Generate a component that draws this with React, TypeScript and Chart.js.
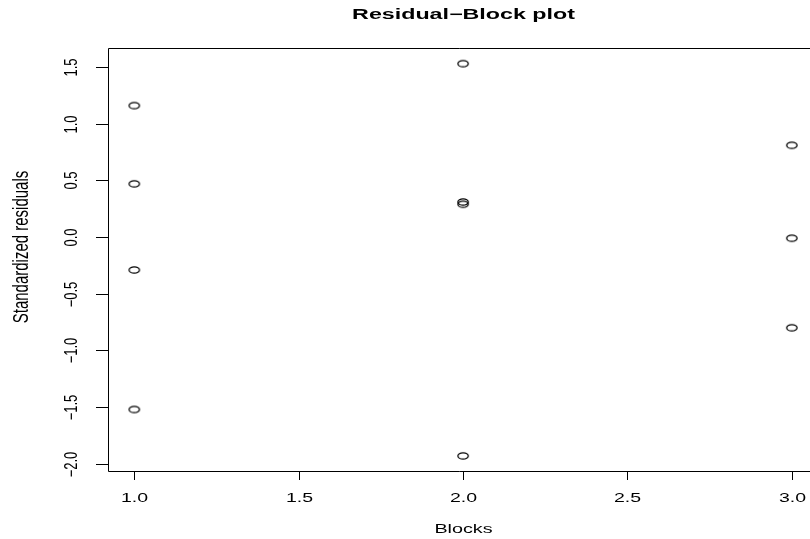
import React, { useEffect, useRef } from "react";
import { Chart, registerables } from "chart.js";

Chart.register(...registerables);

// Data
const blocks: number[] = [1, 1, 1, 1, 2, 2, 2, 2, 3, 3, 3];
const residuals: number[] = [1.16, 0.47, -0.29, -1.52, 1.53, 0.31, 0.29, -1.93, 0.81, -0.01, -0.8];
const xTicks: number[] = [1.0, 1.5, 2.0, 2.5, 3.0];
const yTicks: number[] = [-2.0, -1.5, -1.0, -0.5, 0.0, 0.5, 1.0, 1.5];
const titleText = "Residual\u2212Block plot";
const xTitle = "Blocks";
const yTitle = "Standardized residuals";

const fmt = (v: number) => (v < 0 ? "\u2212" : "") + Math.abs(v).toFixed(1);

function makeEllipse(): HTMLCanvasElement {
  const c = document.createElement("canvas");
  c.width = 14;
  c.height = 10;
  const g = c.getContext("2d")!;
  g.strokeStyle = "#000";
  g.lineWidth = 1.3;
  g.beginPath();
  g.ellipse(7, 5, 5.2, 3.2, 0, 0, Math.PI * 2);
  g.stroke();
  return c;
}

function drawText(
  ctx: CanvasRenderingContext2D,
  text: string,
  x: number,
  y: number,
  font: string,
  sx: number,
  rotate: boolean
) {
  ctx.save();
  ctx.translate(x, y);
  ctx.scale(sx, 1);
  if (rotate) ctx.rotate(-Math.PI / 2);
  ctx.font = font;
  ctx.fillStyle = "#000";
  ctx.textAlign = "center";
  ctx.textBaseline = "middle";
  ctx.fillText(text, 0, 0);
  ctx.restore();
}

const rAxesPlugin = {
  id: "rAxes",
  afterDraw(chart: any) {
    const ctx: CanvasRenderingContext2D = chart.ctx;
    const { left, top, bottom } = chart.chartArea;
    const xs = chart.scales.x;
    const ys = chart.scales.y;
    ctx.save();
    ctx.strokeStyle = "#000";
    ctx.lineWidth = 1;
    // box (right edge falls outside the picture)
    ctx.beginPath();
    ctx.moveTo(chart.width + 20, Math.round(top) + 0.5);
    ctx.lineTo(Math.round(left) + 0.5, Math.round(top) + 0.5);
    ctx.lineTo(Math.round(left) + 0.5, Math.round(bottom) + 0.5);
    ctx.lineTo(chart.width + 20, Math.round(bottom) + 0.5);
    ctx.stroke();
    // y ticks
    yTicks.forEach((v) => {
      const py = Math.round(ys.getPixelForValue(v)) + 0.5;
      ctx.beginPath();
      ctx.moveTo(left - 12, py);
      ctx.lineTo(left, py);
      ctx.stroke();
      drawText(ctx, fmt(v), 72, py, "13px 'Liberation Sans', Arial, sans-serif", 1.35, true);
    });
    // x ticks
    xTicks.forEach((v) => {
      const px = Math.round(xs.getPixelForValue(v)) + 0.5;
      ctx.beginPath();
      ctx.moveTo(px, bottom);
      ctx.lineTo(px, bottom + 9);
      ctx.stroke();
      drawText(ctx, fmt(v), px, 498, "13px 'Liberation Sans', Arial, sans-serif", 1.5, false);
    });
    drawText(ctx, xTitle, 463.5, 529, "13px 'Liberation Sans', Arial, sans-serif", 1.52, false);
    drawText(ctx, yTitle, 22, 247, "15px 'Liberation Sans', Arial, sans-serif", 1.42, true);
    drawText(ctx, titleText, 463.5, 15, "bold 14px 'Liberation Sans', Arial, sans-serif", 1.66, false);
    ctx.restore();
  },
};

export default function App() {
  const ref = useRef<HTMLCanvasElement | null>(null);
  useEffect(() => {
    if (!ref.current) return;
    const pt = makeEllipse();
    const chart = new Chart(ref.current, {
      type: "scatter",
      data: {
        datasets: [
          {
            data: blocks.map((b, i) => ({ x: b, y: residuals[i] })),
            pointStyle: pt as any,
            pointRadius: 5,
            borderColor: "#000",
            backgroundColor: "rgba(0,0,0,0)",
          },
        ],
      },
      options: {
        animation: false,
        responsive: false,
        events: [],
        layout: { padding: { left: 108, right: 0, top: 48, bottom: 68 } },
        plugins: { legend: { display: false }, tooltip: { enabled: false }, title: { display: false } },
        scales: {
          x: { type: "linear", min: 0.92, max: 3.037, display: false },
          y: { type: "linear", min: -2.063, max: 1.668, display: false },
        },
      },
      plugins: [rAxesPlugin],
    });
    return () => chart.destroy();
  }, []);
  return (
    <div style={{ position: "absolute", left: 0, top: 0, width: 810, height: 539, background: "#fff", overflow: "hidden" }}>
      <canvas ref={ref} width={810} height={539} style={{ display: "block" }} />
    </div>
  );
}
